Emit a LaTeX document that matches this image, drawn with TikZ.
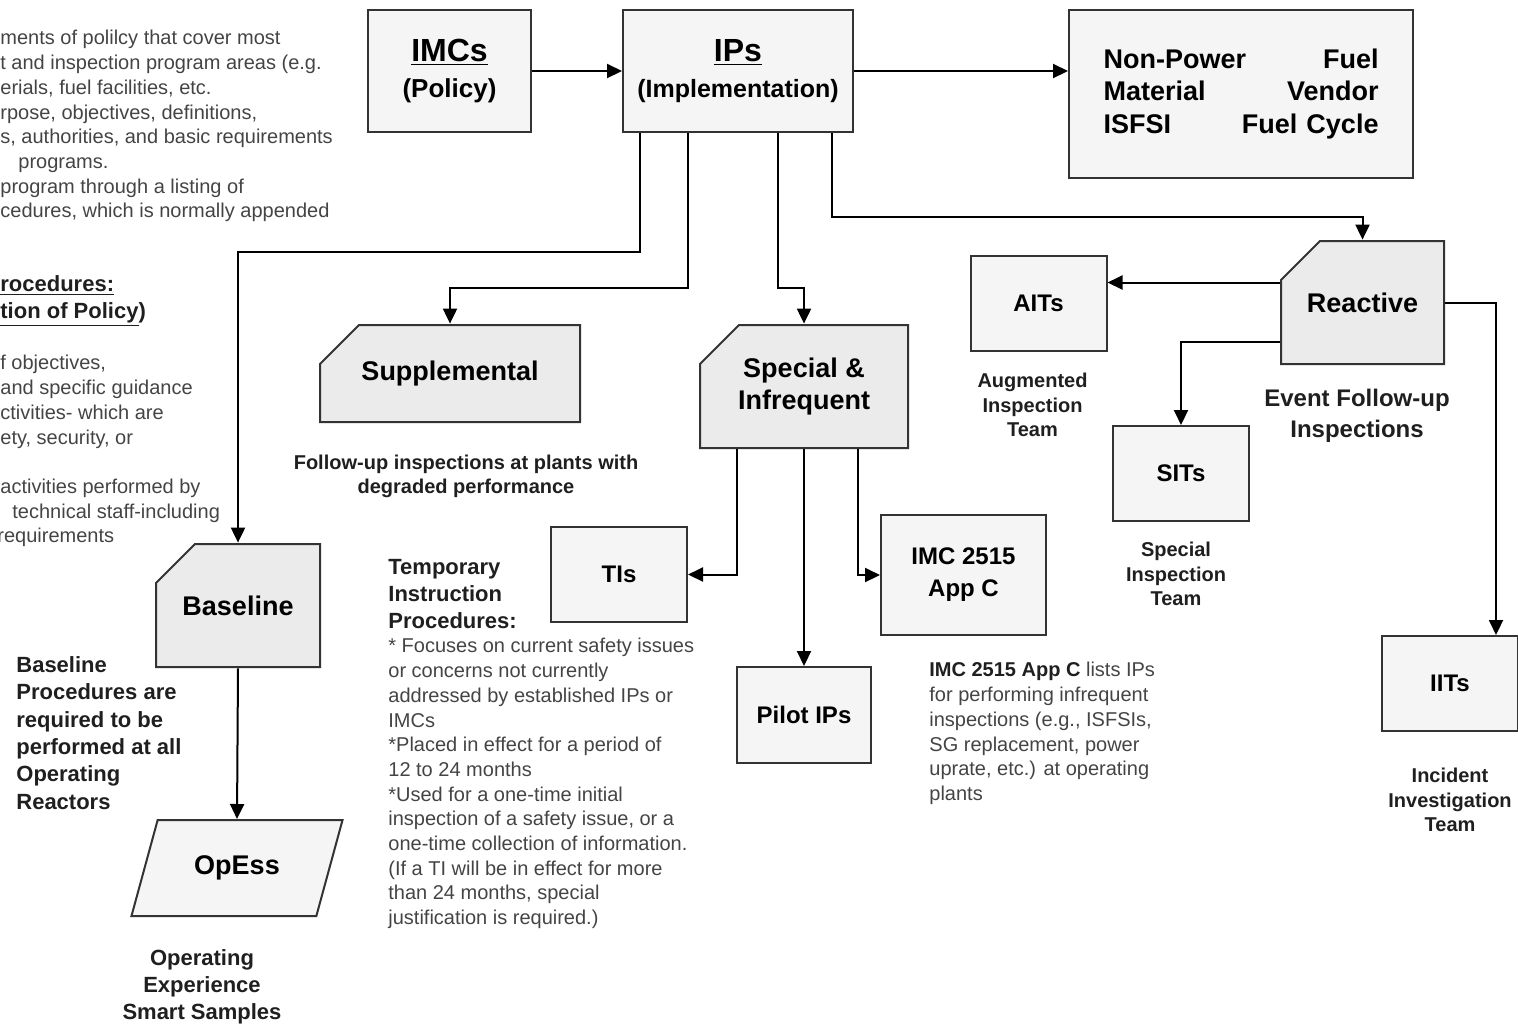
\documentclass[tikz,border=0pt]{standalone}
\usepackage{fontspec}
\setmainfont{Liberation Sans}
\usepackage{xcolor}
\usepackage{tikz}
\usetikzlibrary{%
  shapes.geometric,
  arrows.meta,
  positioning}
\definecolor{boxline}{HTML}{333333}
\definecolor{boxfill}{HTML}{F5F5F5}
\definecolor{cardfill}{HTML}{EBEBEB}
\definecolor{notegray}{HTML}{444444}
\definecolor{notedark}{HTML}{1F1F1F}
\tikzset{
  %% Top level boxes (IMCs / IPs / program areas)
  topbox/.style={
    rectangle, draw=boxline, fill=boxfill, line width=1pt,
    align=center, inner sep=0pt,
    font=\fontsize{13}{18}\selectfont\bfseries},
  %% Inspection category cards (cut corner)
  catcard/.style={
    rectangle, align=center, inner sep=0pt,
    font=\fontsize{13.5}{16}\selectfont\bfseries,
    path picture={
      \filldraw[draw=boxline, fill=cardfill, line width=1pt]
        ([xshift=0.5pt, yshift=-20pt]path picture bounding box.north west)
        -- ([xshift=20pt, yshift=-0.5pt]path picture bounding box.north west)
        -- ([xshift=-0.5pt, yshift=-0.5pt]path picture bounding box.north east)
        -- ([xshift=-0.5pt, yshift=0.5pt]path picture bounding box.south east)
        -- ([xshift=0.5pt, yshift=0.5pt]path picture bounding box.south west)
        -- cycle;}},
  %% Team / procedure boxes
  teambox/.style={
    rectangle, draw=boxline, fill=boxfill, line width=1pt,
    align=center, inner sep=0pt,
    minimum width=68pt, minimum height=47.5pt,
    font=\fontsize{12}{16}\selectfont\bfseries},
  %% OpEss parallelogram
  slantbox/.style={
    trapezium, trapezium left angle=60, trapezium right angle=120,
    trapezium stretches=true,
    draw=boxline, fill=boxfill, line width=1pt,
    inner sep=0pt, font=\fontsize{13.5}{16}\selectfont\bfseries},
  %% Notes
  boldnote/.style={
    align=center, inner sep=0pt, text=notedark,
    font=\fontsize{10}{12.25}\selectfont\bfseries},
  plainnote/.style={
    align=left, inner sep=0pt, text=notegray,
    font=\fontsize{10}{12.35}\selectfont},
  headnote/.style={
    align=left, inner sep=0pt, text=notedark,
    font=\fontsize{11}{13.5}\selectfont\bfseries},
  %% Arrows
  arrow/.style={-{Triangle[length=7.5pt,width=7pt]}, line width=1pt, black},
}

\begin{document}
\begin{tikzpicture}[x=0.5pt, y=-0.5pt]
  \useasboundingbox (0,0) rectangle (1518,1024);

  %% Top row
  \node[topbox, minimum width=81.5pt, minimum height=61pt] (imcs) at (449.5,71)
        {{\fontsize{16}{18}\selectfont\underline{IMCs}}\\(Policy)};
  \node[topbox, minimum width=115pt, minimum height=61pt] (ips) at (738,71)
        {{\fontsize{16}{18}\selectfont\underline{IPs}}\\{\fontsize{12.5}{18}\selectfont(Implementation)}};
  \node[topbox, minimum width=172pt, minimum height=84pt, text width=137.5pt,
        align=left, font=\fontsize{13.5}{16.25}\selectfont\bfseries] (areas) at (1241,94)
        {Non-Power\hfill Fuel\\ Material\hfill Vendor\\ ISFSI\hfill Fuel Cycle};

  %% Inspection categories
  \node[catcard, minimum width=131pt, minimum height=49.5pt] (supp) at (450,373.5)
        {Supplemental};
  \node[catcard, minimum width=105pt, minimum height=62.5pt] (special) at (804,386.5)
        {Special \&\\ Infrequent};
  \node[catcard, minimum width=83pt, minimum height=62.5pt] (baseline) at (238,605.5)
        {Baseline};
  \node[catcard, minimum width=82.5pt, minimum height=62.5pt] (reactive) at (1362.5,302.5)
        {Reactive};
  \node[slantbox, minimum width=106pt, minimum height=48pt] (opess) at (237,868)
        {OpEss};

  %% Teams and procedures
  \node[teambox] (aits) at (1038.5,303.5) {AITs};
  \node[teambox] (sits) at (1181,473.5) {SITs};
  \node[teambox] (iits) at (1450,683.5) {IITs};
  \node[teambox] (tis) at (619,574.5) {TIs};
  \node[teambox, minimum width=82.5pt, minimum height=60pt] (appc) at (963.5,575)
        {IMC 2515\\ App C};
  \node[teambox, minimum width=67pt, minimum height=48pt] (pilot) at (804,715)
        {Pilot IPs};

  %% Connectors
  \draw[arrow] (imcs) -- (ips);
  \draw[arrow] (ips.east) -- (areas.west |- ips.east);
  \draw[arrow] ([xshift=9pt]ips.south west) -- ++(0,119) -| (baseline.north);
  \draw[arrow] ([xshift=33pt]ips.south west) -- ++(0,155) -| (supp.north);
  \draw[arrow] ([xshift=78pt]ips.south west) -- ++(0,155) -| (special.north);
  \draw[arrow] ([xshift=105pt]ips.south west) -- ++(0,84) -| (reactive.north);
  \draw[arrow] ([yshift=10pt]reactive.west) -- ([yshift=10pt]reactive.west -| aits.east);
  \draw[arrow] ([yshift=-19.75pt]reactive.west) -| (sits.north);
  \draw[arrow] (reactive.east) -| ([xshift=23pt]iits.north);
  \draw[arrow] ([xshift=19pt]special.south west) |- (tis.east);
  \draw[arrow] (special.south) -- (pilot.north);
  \draw[arrow] ([xshift=-25.5pt]special.south east) |- (appc.west);
  \draw[arrow] (baseline.south) -- (opess.north);

  %% Captions
  \node[boldnote, below=15.5pt of supp, xshift=8pt] (suppnote)
        {Follow-up inspections at plants with\\ degraded performance};
  \node[boldnote, below=10.5pt of aits, xshift=-3pt] (aitnote)
        {Augmented\\ Inspection\\ Team};
  \node[boldnote, below=10pt of sits, xshift=-2.5pt] (sitnote)
        {Special\\ Inspection\\ Team};
  \node[boldnote, below=18pt of iits] (iitnote)
        {Incident\\ Investigation\\ Team};
  \node[boldnote, below=11.5pt of reactive, xshift=-2.75pt,
        font=\fontsize{12}{15.5}\selectfont\bfseries] (eventnote)
        {Event Follow-up\\ Inspections};
  \node[boldnote, below=16pt of opess, xshift=-17.5pt,
        font=\fontsize{11}{13.5}\selectfont\bfseries] (opessnote)
        {Operating\\ Experience\\ Smart Samples};
  \node[headnote, anchor=north west, font=\fontsize{11}{13.7}\selectfont\bfseries]
        (basenote) at (16,656)
        {Baseline\\ Procedures are\\ required to be\\ performed at all\\ Operating\\ Reactors};

  %% Temporary instructions text
  \node[headnote, anchor=north west] (tihead) at (388,559)
        {Temporary\\ Instruction\\ Procedures:};
  \node[plainnote, anchor=north west] (tibody) at (388,638)
        {* Focuses on current safety issues\\ or concerns not currently\\
         addressed by established IPs or\\ IMCs\\ *Placed in effect for a period of\\
         12 to 24 months\\ *Used for a one-time initial\\ inspection of a safety issue, or a\\
         one-time collection of information.\\ (If a TI will be in effect for more\\
         than 24 months, special\\ justification is required.)};

  %% App C text
  \node[plainnote, anchor=north west] (appcnote) at (929,662)
        {\textcolor{notedark}{\bfseries IMC 2515 App C} lists IPs\\ for performing infrequent\\
         inspections (e.g., ISFSIs,\\ SG replacement, power\\ uprate, etc.) at operating\\ plants};

  %% Left margin text (cut at the page edge)
  \node[plainnote, anchor=north west] (policynote) at (0,30)
        {ments of polilcy that cover most\\ t and inspection program areas (e.g.\\
         erials, fuel facilities, etc.\\ rpose, objectives, definitions,\\
         s, authorities, and basic requirements\\ \hspace*{9pt}programs.\\
         program through a listing of\\ cedures, which is normally appended};
  \node[headnote, anchor=north west] (prochead) at (0,275)
        {\underline{rocedures:}\\ \underline{tion of Policy})};
  \node[plainnote, anchor=north west] (procnote) at (0,355)
        {f objectives,\\ and specific guidance\\ ctivities- which are\\ ety, security, or\\[12.35pt]
         activities performed by\\ \hspace*{6pt}technical staff-including\\ \hspace*{-1.5pt}requirements};
\end{tikzpicture}
\end{document}
